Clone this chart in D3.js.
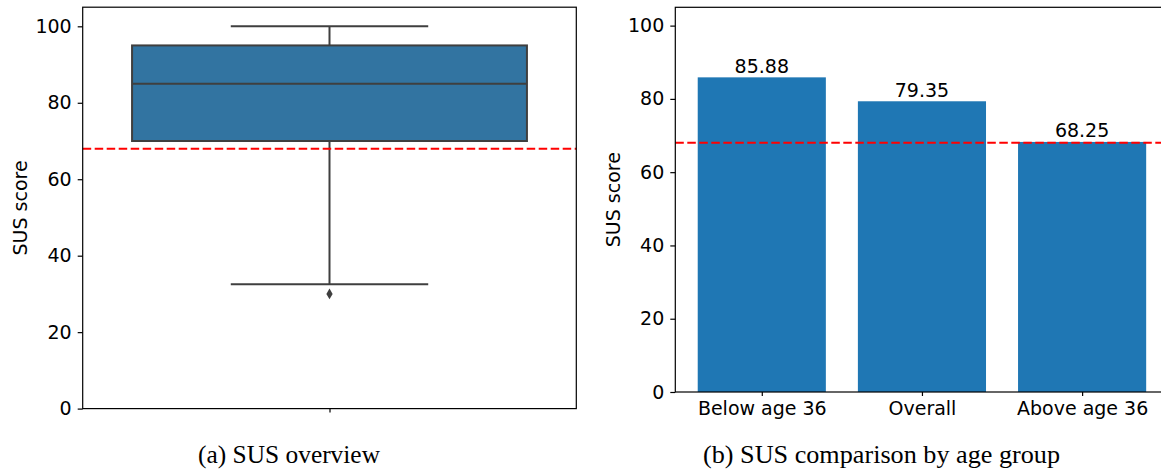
<!DOCTYPE html>
<html>
<head>
<meta charset="utf-8">
<script src="https://cdn.jsdelivr.net/npm/d3@7"></script>
<style>
  body { margin: 0; background: #fff; }
  .axis text { font-family: "DejaVu Sans", sans-serif; font-size: 19px; fill: #000; }
  .axis path, .axis line { stroke: #000; stroke-width: 1.2; }
</style>
</head>
<body>
<div id="chart"></div>
<script>
// SUS data
var benchmark = 68;
var boxQuartiles = [70, 85, 95];     // Q1, median, Q3
var boxWhiskers = [32.5, 100];       // low, high
var boxOutliers = [30];
var groups = ["Below age 36", "Overall", "Above age 36"];
var groupScores = [85.88, 79.35, 68.25];
var yTicks = [0, 20, 40, 60, 80, 100];
var captions = ["(a) SUS overview", "(b) SUS comparison by age group"];

var svgWidth = 1161, svgHeight = 472;
var svg = d3.select("#chart").append("svg")
    .attr("width", svgWidth)
    .attr("height", svgHeight);

var font = '"DejaVu Sans", sans-serif';
var lineGray = "#3f3f3f";

// ---------- left panel: boxplot ----------
var left = { x0: 82.7, x1: 576.3, y0: 7.2, y1: 408.6 };
var xL = d3.scaleLinear().domain([-0.5, 0.5]).range([left.x0, left.x1]);
var yL = d3.scaleLinear().domain([0, 105]).range([left.y1, left.y0]);

var gL = svg.append("g");

// box
gL.append("rect")
    .attr("x", xL(-0.4))
    .attr("y", yL(boxQuartiles[2]))
    .attr("width", xL(0.4) - xL(-0.4))
    .attr("height", yL(boxQuartiles[0]) - yL(boxQuartiles[2]))
    .attr("fill", "#3274a1")
    .attr("stroke", lineGray)
    .attr("stroke-width", 2);

// median
gL.append("line")
    .attr("x1", xL(-0.4)).attr("x2", xL(0.4))
    .attr("y1", yL(boxQuartiles[1])).attr("y2", yL(boxQuartiles[1]))
    .attr("stroke", lineGray).attr("stroke-width", 2);

// whiskers
gL.append("line")
    .attr("x1", xL(0)).attr("x2", xL(0))
    .attr("y1", yL(boxQuartiles[2])).attr("y2", yL(boxWhiskers[1]))
    .attr("stroke", lineGray).attr("stroke-width", 2);
gL.append("line")
    .attr("x1", xL(0)).attr("x2", xL(0))
    .attr("y1", yL(boxQuartiles[0])).attr("y2", yL(boxWhiskers[0]))
    .attr("stroke", lineGray).attr("stroke-width", 2);
gL.selectAll("line.cap")
    .data(boxWhiskers)
    .enter().append("line")
    .attr("class", "cap")
    .attr("x1", xL(-0.2)).attr("x2", xL(0.2))
    .attr("y1", d => yL(d)).attr("y2", d => yL(d))
    .attr("stroke", lineGray).attr("stroke-width", 2);

// outliers (thin diamond)
gL.selectAll("path.flier")
    .data(boxOutliers)
    .enter().append("path")
    .attr("class", "flier")
    .attr("d", d3.symbol(d3.symbolDiamond, 34))
    .attr("transform", d => `translate(${xL(0)},${yL(d)})`)
    .attr("fill", lineGray);

// benchmark line
gL.append("line")
    .attr("x1", left.x0).attr("x2", left.x1)
    .attr("y1", yL(benchmark)).attr("y2", yL(benchmark))
    .attr("stroke", "red").attr("stroke-width", 2)
    .attr("stroke-dasharray", "8.5,3.5");

// frame
gL.append("rect")
    .attr("x", left.x0).attr("y", left.y0)
    .attr("width", left.x1 - left.x0).attr("height", left.y1 - left.y0)
    .attr("fill", "none").attr("stroke", "#000").attr("stroke-width", 1.2);

gL.append("g")
    .attr("class", "axis")
    .attr("transform", `translate(${left.x0},0)`)
    .call(d3.axisLeft(yL).tickValues(yTicks).tickSize(5).tickPadding(6).tickSizeOuter(0))
    .select(".domain").remove();

gL.append("g")
    .attr("class", "axis")
    .attr("transform", `translate(0,${left.y1})`)
    .call(d3.axisBottom(xL).tickValues([0]).tickFormat("").tickSize(4).tickSizeOuter(0))
    .select(".domain").remove();

gL.append("text")
    .attr("transform", `translate(27,${(left.y0 + left.y1) / 2}) rotate(-90)`)
    .attr("text-anchor", "middle")
    .style("font-family", font).style("font-size", "19px")
    .text("SUS score");

// ---------- right panel: bars ----------
var right = { x0: 675.3, x1: 1168.6, y0: 7.3, y1: 392 };
var xR = d3.scaleLinear().domain([-0.54, 2.54]).range([right.x0, right.x1]);
var yR = d3.scaleLinear().domain([0, 105]).range([right.y1, right.y0]);

var gR = svg.append("g");

gR.selectAll("rect.bar")
    .data(groupScores)
    .enter().append("rect")
    .attr("class", "bar")
    .attr("x", (d, i) => xR(i - 0.4))
    .attr("y", d => yR(d))
    .attr("width", xR(0.4) - xR(-0.4))
    .attr("height", d => yR(0) - yR(d))
    .attr("fill", "#1f77b4");

gR.selectAll("text.val")
    .data(groupScores)
    .enter().append("text")
    .attr("class", "val")
    .attr("x", (d, i) => xR(i))
    .attr("y", d => yR(d) - 4.5)
    .attr("text-anchor", "middle")
    .style("font-family", font).style("font-size", "19px")
    .text(d => d.toFixed(2));

gR.append("line")
    .attr("x1", right.x0).attr("x2", right.x1)
    .attr("y1", yR(benchmark)).attr("y2", yR(benchmark))
    .attr("stroke", "red").attr("stroke-width", 2)
    .attr("stroke-dasharray", "8.5,3.5");

gR.append("rect")
    .attr("x", right.x0).attr("y", right.y0)
    .attr("width", right.x1 - right.x0).attr("height", right.y1 - right.y0)
    .attr("fill", "none").attr("stroke", "#000").attr("stroke-width", 1.2);

gR.append("g")
    .attr("class", "axis")
    .attr("transform", `translate(${right.x0},0)`)
    .call(d3.axisLeft(yR).tickValues(yTicks).tickSize(5).tickPadding(6).tickSizeOuter(0))
    .select(".domain").remove();

gR.append("g")
    .attr("class", "axis")
    .attr("transform", `translate(0,${right.y1})`)
    .call(d3.axisBottom(xR).tickValues([0, 1, 2]).tickFormat((d, i) => groups[i]).tickSize(4).tickPadding(6).tickSizeOuter(0))
    .select(".domain").remove();

gR.append("text")
    .attr("transform", `translate(620,${(right.y0 + right.y1) / 2}) rotate(-90)`)
    .attr("text-anchor", "middle")
    .style("font-family", font).style("font-size", "19px")
    .text("SUS score");

// ---------- captions ----------
var captionX = [289, 881.5];
var captionW = [182, 357];
svg.selectAll("text.caption")
    .data(captions)
    .enter().append("text")
    .attr("class", "caption")
    .attr("x", (d, i) => captionX[i] - captionW[i] / 2)
    .attr("y", 463)
    .attr("textLength", (d, i) => captionW[i])
    .attr("lengthAdjust", "spacingAndGlyphs")
    .style("font-family", '"Liberation Serif", serif')
    .style("font-size", "25px")
    .text(d => d);
</script>
</body>
</html>
